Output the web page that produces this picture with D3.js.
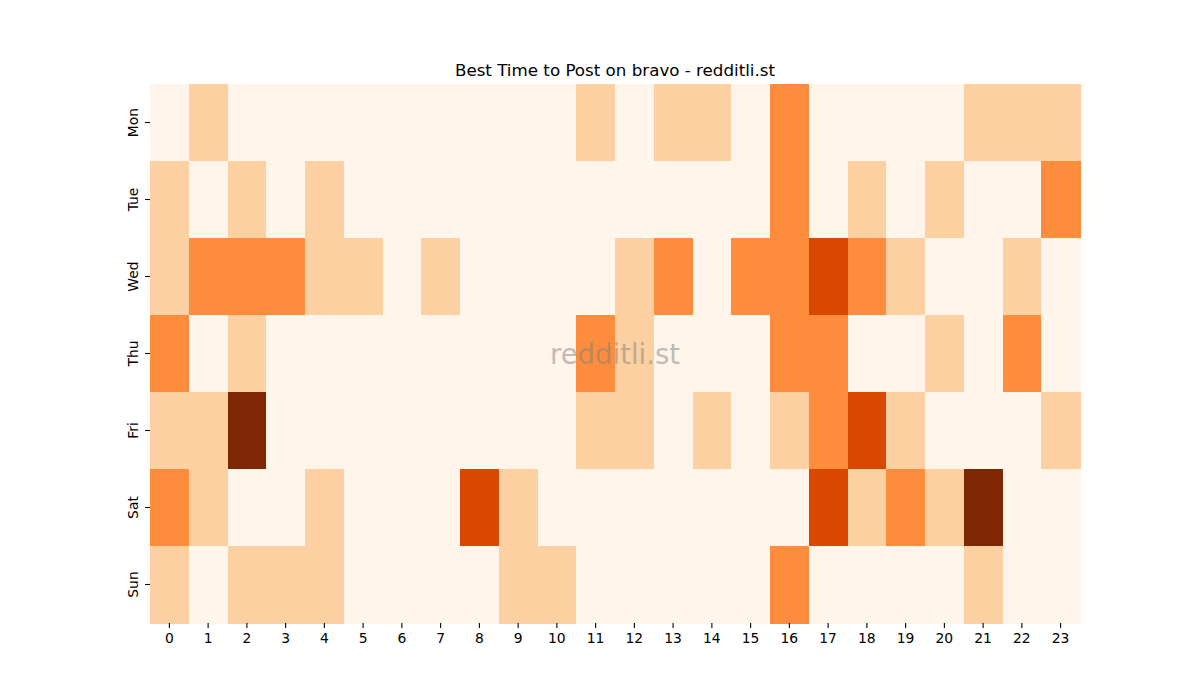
<!DOCTYPE html>
<html>
<head>
<meta charset="utf-8">
<script src="https://cdn.jsdelivr.net/npm/d3@7"></script>
<style>
  body { margin: 0; background: #fff; }
  text { font-family: "DejaVu Sans", sans-serif; }
</style>
</head>
<body>
<div id="chart"></div>
<script>
var svgWidth = 1200;
var svgHeight = 700;

var margin = {
    top: 84,
    right: 120,
    bottom: 77,
    left: 150
};

var width = svgWidth - margin.left - margin.right;
var height = svgHeight - margin.top - margin.bottom;

// days on the y axis, hours on the x axis
var days = ["Mon", "Tue", "Wed", "Thu", "Fri", "Sat", "Sun"];
var hours = d3.range(24);

// activity level per hour (0-4), one row per day
var mon = [0, 1, 0, 0, 0, 0, 0, 0, 0, 0, 0, 1, 0, 1, 1, 0, 2, 0, 0, 0, 0, 1, 1, 1];
var tue = [1, 0, 1, 0, 1, 0, 0, 0, 0, 0, 0, 0, 0, 0, 0, 0, 2, 0, 1, 0, 1, 0, 0, 2];
var wed = [1, 2, 2, 2, 1, 1, 0, 1, 0, 0, 0, 0, 1, 2, 0, 2, 2, 3, 2, 1, 0, 0, 1, 0];
var thu = [2, 0, 1, 0, 0, 0, 0, 0, 0, 0, 0, 2, 1, 0, 0, 0, 2, 2, 0, 0, 1, 0, 2, 0];
var fri = [1, 1, 4, 0, 0, 0, 0, 0, 0, 0, 0, 1, 1, 0, 1, 0, 1, 2, 3, 1, 0, 0, 0, 1];
var sat = [2, 1, 0, 0, 1, 0, 0, 0, 3, 1, 0, 0, 0, 0, 0, 0, 0, 3, 1, 2, 1, 4, 0, 0];
var sun = [1, 0, 1, 1, 1, 0, 0, 0, 0, 1, 1, 0, 0, 0, 0, 0, 2, 0, 0, 0, 0, 1, 0, 0];

var rows = [mon, tue, wed, thu, fri, sat, sun];

// flatten into cells
var cells = [];
rows.forEach(function(row, i) {
    row.forEach(function(v, h) {
        cells.push({ day: days[i], hour: h, value: v });
    });
});

var svg = d3.select("#chart")
    .append("svg")
    .attr("width", svgWidth)
    .attr("height", svgHeight);

var chartGroup = svg.append("g")
    .attr("transform", `translate(${margin.left}, ${margin.top})`);

var xScale = d3.scaleBand()
    .domain(hours)
    .range([0, width]);

var yScale = d3.scaleBand()
    .domain(days)
    .range([0, height]);

// Oranges, sampled at 0, .25, .5, .75, 1
var colorScale = d3.scaleOrdinal()
    .domain([0, 1, 2, 3, 4])
    .range(["#fff5eb", "#fdd0a2", "#fd8d3c", "#d94801", "#7f2704"]);

chartGroup.selectAll(".cell")
    .data(cells)
    .enter()
    .append("rect")
    .classed("cell", true)
    .attr("x", d => xScale(d.hour))
    .attr("y", d => yScale(d.day))
    .attr("width", xScale.bandwidth() + 0.5)
    .attr("height", yScale.bandwidth() + 0.5)
    .attr("fill", d => colorScale(d.value))
    .attr("shape-rendering", "crispEdges");

// x axis
var bottomAxis = d3.axisBottom(xScale).tickSize(4.9).tickPadding(3.5);
var xAxis = chartGroup.append("g")
    .attr("transform", `translate(0, ${height})`)
    .call(bottomAxis);

// y axis
var leftAxis = d3.axisLeft(yScale).tickSize(4.9).tickPadding(3.5);
var yAxis = chartGroup.append("g")
    .call(leftAxis);

[xAxis, yAxis].forEach(function(ax) {
    ax.select(".domain").remove();
    ax.selectAll(".tick line").attr("stroke", "#000").attr("stroke-width", 1.1);
    ax.selectAll(".tick text")
        .attr("fill", "#000")
        .style("font-size", "13.9px")
        .style("font-family", "DejaVu Sans, sans-serif");
});

xAxis.selectAll(".tick text").attr("dy", "0.85em");

// rotate day labels
yAxis.selectAll(".tick text")
    .attr("transform", "rotate(-90)")
    .attr("x", 0)
    .attr("y", -12)
    .attr("dy", "0")
    .attr("text-anchor", "middle");

// title
svg.append("text")
    .attr("x", margin.left + width / 2)
    .attr("y", margin.top - 8)
    .attr("text-anchor", "middle")
    .style("font-size", "16.7px")
    .attr("fill", "#000")
    .text("Best Time to Post on bravo - redditli.st");

// watermark
svg.append("text")
    .attr("x", margin.left + width / 2)
    .attr("y", margin.top + height / 2 + 10)
    .attr("text-anchor", "middle")
    .style("font-size", "27.5px")
    .attr("fill", "#808080")
    .attr("fill-opacity", 0.5)
    .text("redditli.st");
</script>
</body>
</html>
